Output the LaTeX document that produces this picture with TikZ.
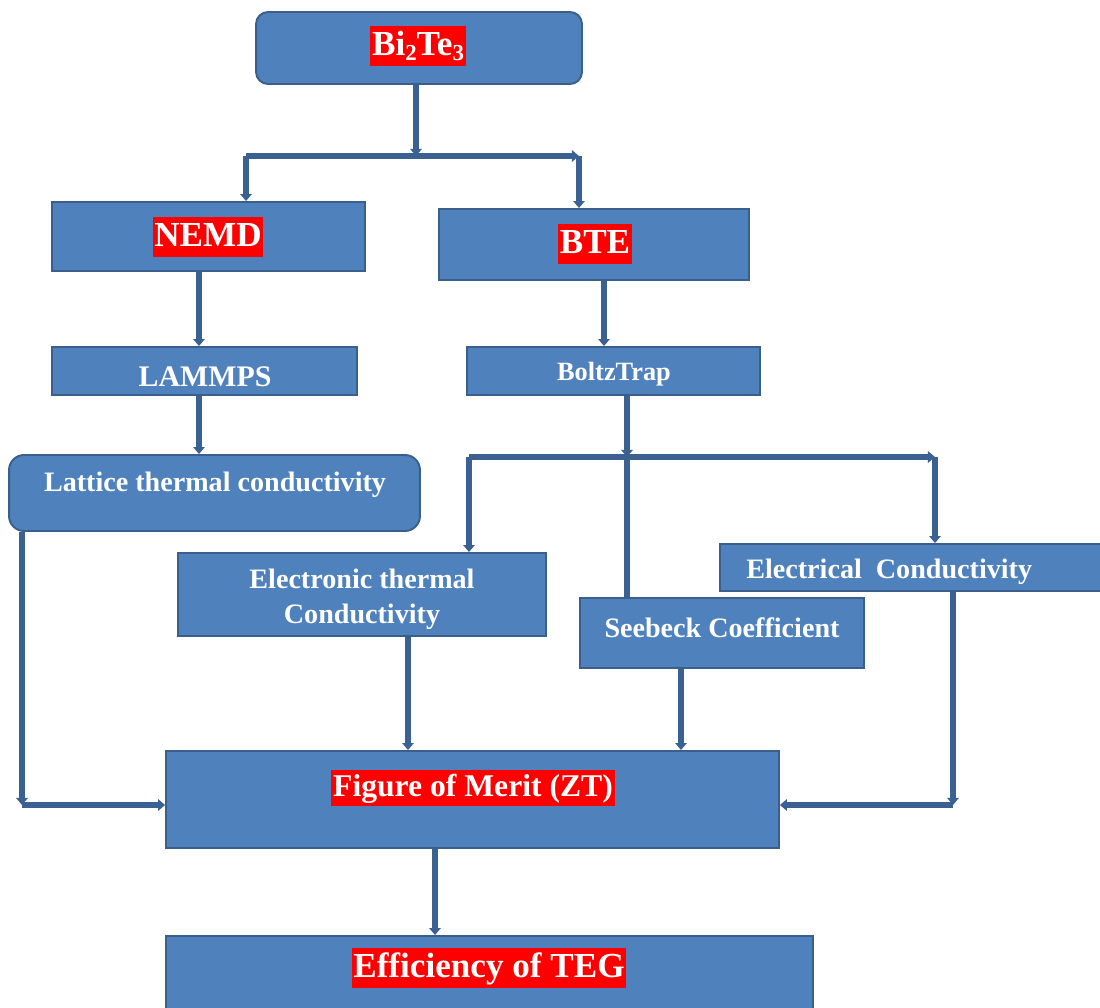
\documentclass[tikz,border=0pt]{standalone}
\usepackage{fontspec}
\setmainfont{Liberation Serif}
\usetikzlibrary{
    arrows.meta,
    positioning
}
\definecolor{boxfill}{HTML}{4F81BD}
\definecolor{boxline}{HTML}{3A5F8C}
\definecolor{linkline}{HTML}{3B6192}
\definecolor{hired}{HTML}{FF0000}

\begin{document}
\begin{tikzpicture}[
    x=0.02cm, y=-0.02cm,
    box/.style={draw=boxline, fill=boxfill, line width=1.1pt, inner sep=0pt},
    hilite/.style={fill=hired, text=white, font=\bfseries\fontsize{20}{24}\selectfont,
      inner xsep=1pt, inner ysep=0pt, text height=16.5pt, text depth=6pt},
    plain/.style={text=white, font=\bfseries\fontsize{16}{20}\selectfont, inner sep=0pt},
    link/.style={draw=linkline, line width=3pt, -{Triangle[width=6.5pt,length=4pt]}}
  ]

  \useasboundingbox (0,0) rectangle (1100,1008);

  % Bi2Te3 {{{
  \node[
    box,
    rounded corners=0.24cm,
    minimum width=6.52cm,
    minimum height=1.44cm
  ] (bite) at (419,48) {};
  \node[hilite] (bite-t) at (418,46)
    {Bi\raisebox{-3pt}{\fontsize{13}{13}\selectfont 2}Te\raisebox{-3pt}{\fontsize{13}{13}\selectfont 3}};
  % }}}

  % NEMD / BTE {{{
  \node[
    box,
    minimum width=6.26cm,
    minimum height=1.38cm
  ] (nemd) at (208.5,236.5) {};
  \node[hilite] (nemd-t) at (208,237) {NEMD};

  \node[
    box,
    minimum width=6.2cm,
    minimum height=1.42cm
  ] (bte) at (594,244.5) {};
  \node[hilite] (bte-t) at (595,244) {BTE};
  % }}}

  % LAMMPS / BoltzTrap {{{
  \node[
    box,
    minimum width=6.1cm,
    minimum height=0.96cm
  ] (lammps) at (204.5,371) {};
  \node[plain, font=\bfseries\fontsize{17}{20}\selectfont] (lammps-t) at (205,377) {LAMMPS};

  \node[
    box,
    minimum width=5.86cm,
    minimum height=0.96cm
  ] (boltz) at (613.5,371) {};
  \node[plain, font=\bfseries\fontsize{15}{18}\selectfont] (boltz-t) at (614,374) {BoltzTrap};
  % }}}

  % conductivities {{{
  \node[
    box,
    rounded corners=0.3cm,
    minimum width=8.22cm,
    minimum height=1.52cm
  ] (lattice) at (214.5,493) {};
  \node[plain] (lattice-t) at (215,485) {Lattice thermal conductivity};

  \node[
    box,
    minimum width=7.36cm,
    minimum height=1.66cm
  ] (electronic) at (362,594.5) {};
  \node[plain, align=center] (electronic-t) at (362,599) {Electronic thermal\\Conductivity};

  \node[
    box,
    minimum width=5.68cm,
    minimum height=1.4cm
  ] (seebeck) at (722,633) {};
  \node[plain] (seebeck-t) at (722,628) {Seebeck Coefficient};

  \node[
    box,
    minimum width=7.68cm,
    minimum height=0.94cm
  ] (elec) at (912,567.5) {};
  \node[plain, anchor=west] (elec-t) at (746,572) {Electrical~~Conductivity};
  % }}}

  % ZT / TEG {{{
  \node[
    box,
    minimum width=12.26cm,
    minimum height=1.94cm
  ] (merit) at (472.5,799.5) {};
  \node[
    hilite,
    font=\bfseries\fontsize{18}{22}\selectfont,
    text height=15pt,
    text depth=5.5pt
  ] (merit-t) at (473,788) {Figure of Merit (ZT)};

  \node[
    box,
    minimum width=12.94cm,
    minimum height=1.52cm
  ] (eff) at (489.5,974) {};
  \node[hilite] (eff-t) at (489,968) {Efficiency of TEG};
  % }}}

  % links {{{
  \coordinate (fork-a) at (416,156);
  \coordinate (fork-al) at (246,156);
  \coordinate (fork-ar) at (579,156);
  \draw[link] (416,0 |- bite.south) -- (fork-a);
  \draw[link] (fork-al) -- (fork-ar);
  \draw[link] (fork-al) -- (fork-al |- nemd.north);
  \draw[link] (fork-ar) -- (fork-ar |- bte.north);

  \draw[link] (199,0 |- nemd.south) -- (199,0 |- lammps.north);
  \draw[link] (604,0 |- bte.south) -- (604,0 |- boltz.north);
  \draw[link] (199,0 |- lammps.south) -- (199,0 |- lattice.north);

  \coordinate (fork-b) at (627,457);
  \coordinate (fork-bl) at (469,457);
  \coordinate (fork-br) at (935,457);
  \draw[link] (627,0 |- boltz.south) -- (fork-b);
  \draw[link] (fork-bl) -- (fork-br);
  \draw[link] (fork-bl) -- (fork-bl |- electronic.north);
  \draw[link] (fork-br) -- (fork-br |- elec.north);
  \draw[link, -] (fork-b) -- (fork-b |- seebeck.north);

  \coordinate (corner-l) at (22,805);
  \coordinate (corner-r) at (953,805);
  \draw[link] (22,0 |- lattice.south) -- (corner-l);
  \draw[link] (corner-l) -- (corner-l -| merit.west);
  \draw[link] (953,0 |- elec.south) -- (corner-r);
  \draw[link] (corner-r) -- (corner-r -| merit.east);

  \draw[link] (408,0 |- electronic.south) -- (408,0 |- merit.north);
  \draw[link] (681,0 |- seebeck.south) -- (681,0 |- merit.north);
  \draw[link] (435,0 |- merit.south) -- (435,0 |- eff.north);
  % }}}

\end{tikzpicture}
\end{document}
